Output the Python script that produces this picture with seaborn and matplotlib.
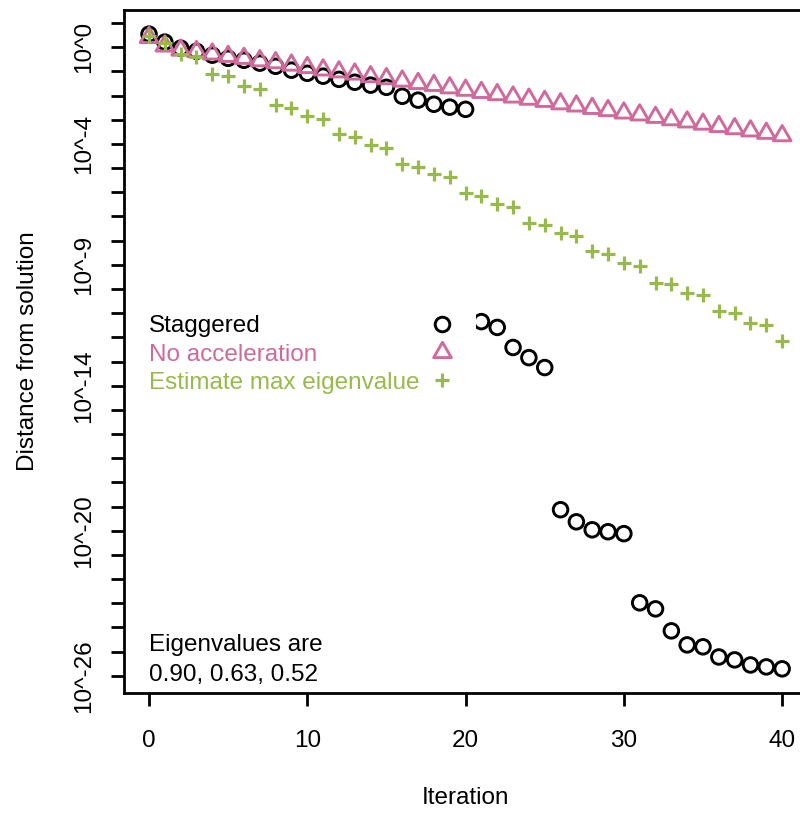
import numpy as np
import matplotlib
matplotlib.use("Agg")
import matplotlib.pyplot as plt
import seaborn as sns
from matplotlib.lines import Line2D
from matplotlib.path import Path

FS = 17.5
plt.rcParams['font.family'] = ['Liberation Sans', 'DejaVu Sans']
plt.rcParams['font.size'] = FS

# iteration numbers
iterations = list(range(41))

# log10 of the distance from the solution
staggered_log = [0.54, 0.21, -0.04, -0.17, -0.33, -0.46, -0.54, -0.66, -0.79, -0.95,
                 -1.08, -1.20, -1.33, -1.45, -1.57, -1.66, -2.03, -2.19, -2.36, -2.48,
                 -2.57, -11.35, -11.59, -12.42, -12.84, -13.25, -19.13, -19.63, -19.96, -20.04,
                 -20.12, -22.98, -23.23, -24.14, -24.72, -24.80, -25.22, -25.34, -25.55, -25.63,
                 -25.71]
no_accel_log = [0.40, 0.05, -0.12, -0.18, -0.28, -0.38, -0.46, -0.56, -0.64, -0.74,
                -0.84, -0.94, -1.02, -1.11, -1.22, -1.30, -1.40, -1.50, -1.58, -1.68,
                -1.78, -1.87, -1.96, -2.06, -2.15, -2.24, -2.34, -2.43, -2.53, -2.62,
                -2.72, -2.80, -2.90, -3.00, -3.09, -3.18, -3.28, -3.37, -3.46, -3.56,
                -3.66]
estimate_log = [0.47, 0.17, -0.29, -0.39, -1.12, -1.21, -1.60, -1.71, -2.38, -2.50,
                -2.84, -2.95, -3.60, -3.70, -4.06, -4.15, -4.84, -4.94, -5.26, -5.35,
                -6.02, -6.14, -6.50, -6.60, -7.26, -7.37, -7.70, -7.81, -8.43, -8.57,
                -8.94, -9.06, -9.74, -9.81, -10.16, -10.23, -10.92, -11.01, -11.40, -11.50,
                -12.16]

series_names = ['Staggered', 'No acceleration', 'Estimate max eigenvalue']
series_colors = ['black', '#CF6A9B', '#98BA4C']

y_tick_exponents = list(range(1, -27, -1))
y_label_exponents = [0, -4, -9, -14, -20, -26]

staggered = 10.0 ** np.array(staggered_log)
no_accel = 10.0 ** np.array(no_accel_log)
estimate = 10.0 ** np.array(estimate_log)

# R style triangle (centred on its centroid)
tri = Path([(0, 1.555), (-1.347, -0.778), (1.347, -0.778), (0, 1.555)],
           [Path.MOVETO, Path.LINETO, Path.LINETO, Path.CLOSEPOLY])

fig = plt.figure(figsize=(8, 8.14), dpi=100)
ax = fig.add_axes([124 / 800, 121 / 814, 683 / 800, 683 / 814])

sns.scatterplot(x=iterations, y=staggered, marker='o', s=110, facecolor='none',
                edgecolor=series_colors[0], linewidth=2.1, ax=ax, zorder=3)
sns.scatterplot(x=iterations, y=no_accel, marker=tri, s=215, facecolor='none',
                edgecolor=series_colors[1], linewidth=2.1, ax=ax, zorder=3)
sns.scatterplot(x=iterations, y=estimate, marker='+', s=115,
                color=series_colors[2], linewidth=2.3, ax=ax, zorder=3)

ax.set_yscale('log')
ax.set_xlim(-1.58, 41.57)
ax.set_ylim(10 ** -26.71, 10 ** 1.538)
ax.set_xticks([0, 10, 20, 30, 40])
ax.set_yticks([10.0 ** e for e in y_tick_exponents])
ax.set_yticklabels([f'10^{e}' if e in y_label_exponents else '' for e in y_tick_exponents],
                   rotation=90, va='center')
ax.yaxis.set_minor_locator(matplotlib.ticker.NullLocator())
ax.tick_params(axis='both', length=9.5, width=2, labelsize=FS)
ax.tick_params(axis='x', pad=17)
ax.tick_params(axis='y', pad=11.5)
for sp in ax.spines.values():
    sp.set_linewidth(2)

ax.set_xlabel('Iteration', fontsize=FS)
ax.set_ylabel('Distance from solution', fontsize=FS)
ax.xaxis.set_label_coords(0.5, -0.138)
ax.yaxis.set_label_coords(-0.125, 0.5)

handles = [
    Line2D([], [], linestyle='', marker='o', markersize=10.5, markerfacecolor='none',
           markeredgecolor=series_colors[0], markeredgewidth=2.1),
    Line2D([], [], linestyle='', marker=tri, markersize=14.7, markerfacecolor='none',
           markeredgecolor=series_colors[1], markeredgewidth=2.1),
    Line2D([], [], linestyle='', marker='+', markersize=10.7,
           markeredgecolor=series_colors[2], markeredgewidth=2.3),
]
pad_pts = 0.03 * FS
leg = ax.legend(handles, series_names, loc='center left', bbox_to_anchor=(0.0186, 0.4956),
                borderaxespad=0, borderpad=0.5, markerfirst=False, handlelength=1.8,
                handletextpad=0.03, labelspacing=0.26, frameon=True, fancybox=False,
                fontsize=FS, labelcolor=series_colors)
leg.get_frame().set_facecolor('white')
leg.get_frame().set_edgecolor('none')
leg.get_frame().set_alpha(1)

# left-align legend texts while keeping the markers in one column (as in R)
fig.canvas.draw()
renderer = fig.canvas.get_renderer()
widths = [t.get_window_extent(renderer).width for t in leg.get_texts()]
col = leg._legend_handle_box.get_children()[0]
col.align = 'left'
for row, w in zip(col.get_children(), widths):
    row.sep = pad_pts + (max(widths) - w) * 72 / fig.dpi

ax.text(0.0366, 0.0483, 'Eigenvalues are\n0.90, 0.63, 0.52', transform=ax.transAxes,
        ha='left', va='center', fontsize=FS, linespacing=1.42)

fig.savefig('out.png', dpi=100)
